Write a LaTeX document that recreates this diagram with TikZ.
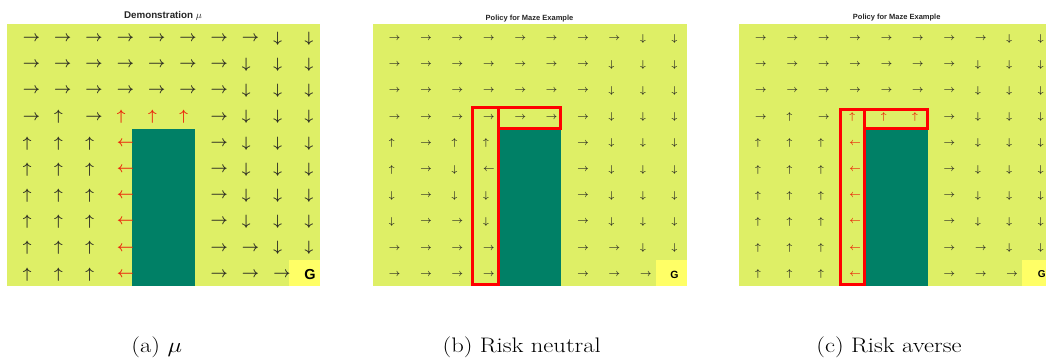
\RequirePackage{fix-cm}
\documentclass[tikz,border=0pt]{standalone}
\usepackage{fontspec}
\newfontfamily\arialfont{Liberation Sans}
\definecolor{mazebg}{RGB}{222,239,102}
\definecolor{wall}{RGB}{0,128,102}
\definecolor{goal}{RGB}{255,255,102}
\definecolor{arrowgray}{RGB}{45,45,35}
\definecolor{arrowred}{RGB}{235,35,10}
\newcommand\mzR{$\rightarrow$}
\newcommand\mzL{$\leftarrow$}
\newcommand\mzU{$\uparrow$}
\newcommand\mzD{$\downarrow$}
\newcommand\mzu{\color{arrowred}$\uparrow$}
\newcommand\mzl{\color{arrowred}$\leftarrow$}
\tikzset{
  cellarrow/.style={inner sep=0pt, anchor=west, text=arrowgray},
  panelbg/.style={fill=mazebg},
  wallcell/.style={fill=wall},
  goalcell/.style={fill=goal},
  goaltext/.style={inner sep=0pt, text=black},
  paneltitle/.style={inner sep=0pt, text=black!85},
  redbox/.style={draw=red, line width=3pt},
  subcap/.style={inner sep=0pt, anchor=base, font=\fontsize{21}{21}\selectfont},
}
% #1 name prefix, #2 left x, #3 cell width, #4 arrow size, #5 rows
\newcommand\mazepanel[5]{%
  \foreach \row [count=\i from 0] in {#5} {%
    \foreach \c [count=\j from 0] in \row {%
      \if\c O\else\if\c G\else
        \node[cellarrow, font=\fontsize{#4}{#4}\selectfont\boldmath] (#1-\i-\j)
          at ({#2+(\j+0.5)*#3},{24+(\i+0.5)*26.2+1.5}) {\csname mz\c\endcsname};
      \fi\fi
    }%
  }%
}
\begin{document}
\begin{tikzpicture}[x=1pt,y=-1pt]
\useasboundingbox (0,0) rectangle (1046,358);
\fill[white] (0,0) rectangle (1046,358);

% ---------- panel (a)
\fill[panelbg] (7,24) rectangle (320,286);
\fill[wallcell] ({7+4*31.3},{24+4*26.2}) rectangle ({7+6*31.3},286);
\fill[goalcell] ({7+9*31.3},{24+9*26.2}) rectangle (320,286);
\mazepanel{a}{7}{31.3}{15}{
 {R,R,R,R,R,R,R,R,D,D},
 {R,R,R,R,R,R,R,D,D,D},
 {R,R,R,R,R,R,R,D,D,D},
 {R,U,R,u,u,u,R,D,D,D},
 {U,U,U,l,O,O,R,D,D,D},
 {U,U,U,l,O,O,R,D,D,D},
 {U,U,U,l,O,O,R,D,D,D},
 {U,U,U,l,O,O,R,D,D,D},
 {U,U,U,l,O,O,R,R,D,D},
 {U,U,U,l,O,O,R,R,R,G}}
\node[goaltext, font=\arialfont\bfseries\fontsize{14.5}{14.5}\selectfont] (ga) at (310,274.7) {G};
\node[paneltitle, font=\arialfont\bfseries\fontsize{9.8}{9.8}\selectfont] (ta) at (163,16) {Demonstration $\mu$};

% ---------- panel (b)
\fill[panelbg] (373,24) rectangle (687,286);
\fill[wallcell] ({373+4*31.4},{24+4*26.2}) rectangle ({373+6*31.4},286);
\fill[goalcell] ({373+9*31.4},{24+9*26.2}) rectangle (687,286);
\mazepanel{b}{373}{31.4}{10}{
 {R,R,R,R,R,R,R,R,D,D},
 {R,R,R,R,R,R,R,D,D,D},
 {R,R,R,R,R,R,R,D,D,D},
 {R,R,R,R,R,R,R,D,D,D},
 {U,R,U,U,O,O,R,D,D,D},
 {U,R,D,L,O,O,R,D,D,D},
 {D,R,D,D,O,O,R,D,D,D},
 {D,R,R,D,O,O,R,D,D,D},
 {R,R,R,R,O,O,R,R,D,D},
 {R,R,R,R,O,O,R,R,R,G}}
\node[goaltext, font=\arialfont\bfseries\fontsize{10.5}{10.5}\selectfont] (gb) at (674.5,274.5) {G};
\node[paneltitle, font=\arialfont\bfseries\fontsize{7.5}{7.5}\selectfont] (tb) at (529.5,19) {Policy for Maze Example};
\draw[redbox] (472.5,107.2) rectangle (498.7,284.7);
\draw[redbox] (498.7,107.2) rectangle (560.2,128.5);

% ---------- panel (c)
\fill[panelbg] (739.3,24) rectangle (1046,286);
\fill[wallcell] ({739.3+4*31.4},{24+4*26.2}) rectangle ({739.3+6*31.4},286);
\fill[goalcell] ({739.3+9*31.4},{24+9*26.2}) rectangle (1046,286);
\mazepanel{c}{739.3}{31.4}{10}{
 {R,R,R,R,R,R,R,R,D,D},
 {R,R,R,R,R,R,R,D,D,D},
 {R,R,R,R,R,R,R,D,D,D},
 {R,U,R,u,u,u,R,D,D,D},
 {U,U,U,l,O,O,R,D,D,D},
 {U,U,U,l,O,O,R,D,D,D},
 {U,U,U,l,O,O,R,D,D,D},
 {U,U,U,l,O,O,R,D,D,D},
 {U,U,U,l,O,O,R,R,D,D},
 {U,U,U,l,O,O,R,R,R,G}}
\node[goaltext, font=\arialfont\bfseries\fontsize{10}{10}\selectfont] (gc) at (1041.7,274) {G};
\node[paneltitle, font=\arialfont\bfseries\fontsize{7.5}{7.5}\selectfont] (tc) at (896.7,18) {Policy for Maze Example};
\draw[redbox] (840.8,109.2) rectangle (864.7,284.7);
\draw[redbox] (864.7,109.2) rectangle (927.5,128.7);

% ---------- captions
\node[subcap] (capa) at (156.7,352) {\scalebox{1.17}[1]{(a) $\mu$}};
\node[subcap] (capb) at (521.7,352) {\scalebox{1.17}[1]{(b) Risk neutral}};
\node[subcap] (capc) at (889,352) {\scalebox{1.17}[1]{(c) Risk averse}};
\end{tikzpicture}
\end{document}
